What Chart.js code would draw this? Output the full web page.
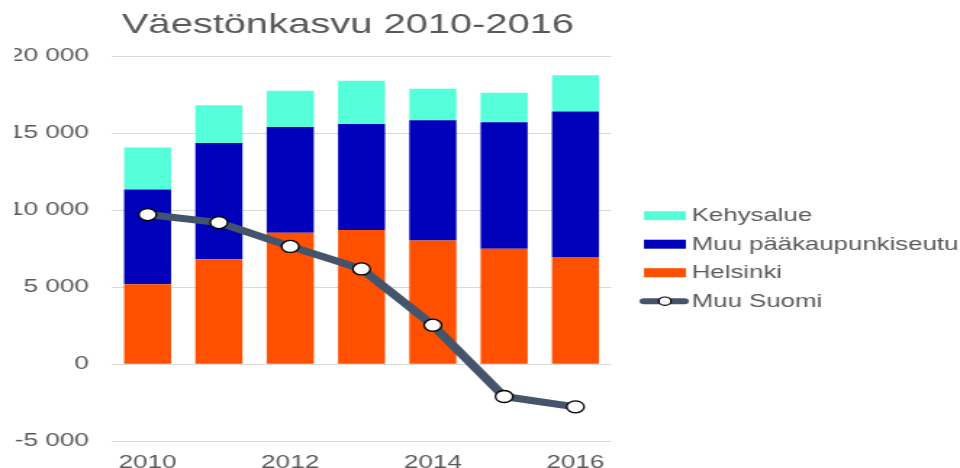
<!DOCTYPE html>
<html>
<head>
<meta charset="utf-8">
<script src="https://cdn.jsdelivr.net/npm/chart.js@4.4.1/dist/chart.umd.min.js"></script>
<style>
  body { margin: 0; background: #fff; }
  #chart { display: block; }
</style>
</head>
<body>
<!-- the reference is horizontally stretched, so the canvas is drawn narrow and stretched -->
<canvas id="chart" width="662" height="468" style="width:960px;height:468px"></canvas>
<script>
// Väestönkasvu 2010-2016
var titleText = "Väestönkasvu 2010-2016";
var years = ["2010", "2011", "2012", "2013", "2014", "2015", "2016"];
var helsinki = [5190, 6810, 8530, 8710, 8030, 7490, 6960];
var muuPks = [6140, 7550, 6860, 6880, 7800, 8210, 9430];
var kehysalue = [2730, 2450, 2360, 2810, 2050, 1920, 2360];
var muuSuomi = [9710, 9190, 7640, 6180, 2530, -2100, -2770];
var yTicks = [-5000, 0, 5000, 10000, 15000, 20000];

var fontFam = '"Liberation Sans", Arial, sans-serif';
var grey = "#595959";

function fmt(v) {
  return String(v).replace(/\B(?=(\d{3})+(?!\d))/g, " ");
}

// title + legend drawn by hand, legend order as in the original
var extras = {
  id: "extras",
  afterDraw: function (chart) {
    var ctx = chart.ctx;
    var ds = chart.data.datasets;
    ctx.save();
    ctx.fillStyle = grey;
    ctx.font = "27.5px " + fontFam;
    ctx.textAlign = "left";
    ctx.textBaseline = "alphabetic";
    ctx.fillText(titleText, 84, 32.7);

    var items = [ds[2], ds[1], ds[0], ds[3]];
    var x = 444, y0 = 215.7, step = 28.5;
    ctx.font = "17.8px " + fontFam;
    ctx.textBaseline = "middle";
    items.forEach(function (d, i) {
      var y = y0 + i * step;
      if (d.type === "line") {
        ctx.strokeStyle = d.borderColor;
        ctx.lineWidth = 6;
        ctx.lineCap = "round";
        ctx.beginPath();
        ctx.moveTo(444, y);
        ctx.lineTo(472, y);
        ctx.stroke();
        ctx.beginPath();
        ctx.arc(458.5, y, 4.2, 0, Math.PI * 2);
        ctx.fillStyle = "#fff";
        ctx.fill();
        ctx.lineWidth = 1.2;
        ctx.strokeStyle = "#000";
        ctx.stroke();
      } else {
        ctx.fillStyle = d.backgroundColor;
        ctx.fillRect(x, y - 4.5, 29, 9);
      }
      ctx.fillStyle = grey;
      ctx.fillText(d.label, 477, y + 0.5);
    });
    ctx.restore();
  }
};

var context = document.getElementById("chart");
var chart = new Chart(context, {
  type: "bar",
  data: {
    labels: years,
    datasets: [
      { label: "Helsinki", backgroundColor: "#FF5000", data: helsinki, order: 1 },
      { label: "Muu pääkaupunkiseutu", backgroundColor: "#0000BB", data: muuPks, order: 1 },
      { label: "Kehysalue", backgroundColor: "#55FFD9", data: kehysalue, order: 1 },
      {
        type: "line",
        label: "Muu Suomi",
        data: muuSuomi,
        stack: "muu",
        order: 0,
        borderColor: "#44546A",
        borderWidth: 7,
        tension: 0,
        pointRadius: 6,
        pointHoverRadius: 6,
        pointBackgroundColor: "#fff",
        pointBorderColor: "#000",
        pointBorderWidth: 1.3
      }
    ]
  },
  options: {
    responsive: false,
    animation: false,
    devicePixelRatio: 1,
    layout: { padding: { left: 10, right: 240.6, top: 56, bottom: -19 } },
    datasets: { bar: { barPercentage: 0.66, categoryPercentage: 1 } },
    plugins: {
      legend: { display: false },
      title: { display: false },
      tooltip: { enabled: false }
    },
    scales: {
      x: {
        stacked: true,
        grid: { display: false, drawTicks: false },
        border: { display: false },
        ticks: {
          autoSkip: false,
          maxRotation: 0,
          padding: 11,
          color: grey,
          font: { family: fontFam, size: 18 },
          callback: function (v, i) { return i % 2 ? "" : years[i]; }
        }
      },
      y: {
        stacked: true,
        min: yTicks[0],
        max: yTicks[yTicks.length - 1],
        afterFit: function (scale) { scale.width = 67.2; },
        grid: { color: "#d9d9d9", drawTicks: false },
        border: { display: false },
        ticks: {
          stepSize: 5000,
          padding: 16,
          color: grey,
          font: { family: fontFam, size: 18 },
          callback: function (v) { return fmt(v); }
        }
      }
    }
  },
  plugins: [extras]
});
</script>
</body>
</html>
